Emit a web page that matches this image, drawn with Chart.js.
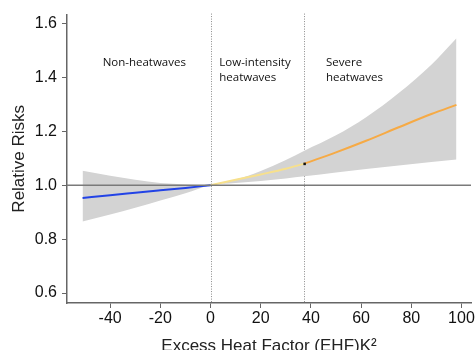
<!DOCTYPE html>
<html>
<head>
<meta charset="utf-8">
<script src="https://cdn.jsdelivr.net/npm/chart.js@4/dist/chart.umd.min.js"></script>
<style>
  html, body { margin: 0; padding: 0; background: #fff; }
  #wrap { width: 476px; height: 350px; position: relative; }
</style>
</head>
<body>
<div id="wrap"><canvas id="grafik"></canvas></div>
<script>
// ----- podaci (procitano sa slike)
const xNon = [-51, -40, -30, -20, -10, 0];
const rrNon = [0.953, 0.963, 0.972, 0.981, 0.990, 1.0];

const xLow = [0, 10, 20, 30, 37.4];
const rrLow = [1.0, 1.020, 1.040, 1.061, 1.080];

const xSev = [37.4, 50, 62, 75, 88, 98];
const rrSev = [1.080, 1.122, 1.165, 1.215, 1.264, 1.298];

// interval poverenja (siva traka)
const xBand  = [-51, -40, -30, -20, -10, 0, 10, 20, 30, 37.4, 50, 62, 75, 88, 98];
const hiBand = [1.054, 1.035, 1.020, 1.008, 1.003, 1.0, 1.021, 1.053, 1.094, 1.128, 1.185, 1.252, 1.342, 1.447, 1.545];
const loBand = [0.865, 0.891, 0.916, 0.943, 0.970, 1.0, 1.008, 1.016, 1.025, 1.033, 1.047, 1.060, 1.073, 1.086, 1.095];

const xTicks = [-40, -20, 0, 20, 40, 60, 80, 100];
const yTicks = [0.6, 0.8, 1.0, 1.2, 1.4, 1.6];

const granice = [0, 37.4];   // isprekidane vertikalne linije
const refLinija = 1.0;

const oznake = [
  { x: -43, lines: ["Non-heatwaves"] },
  { x: 3.5, lines: ["Low-intensity", "heatwaves"] },
  { x: 46, lines: ["Severe", "heatwaves"] }
];

function tacke(xs, ys) {
  return xs.map((x, i) => ({ x: x, y: ys[i] }));
}

// ----- plugin za referentne linije i tekst
const dodaci = {
  id: "dodaci",
  beforeDatasetsDraw(chart) {
    let ctx = chart.ctx;
    let xs = chart.scales.x;
    let a = chart.chartArea;
    ctx.save();
    // vertikalne tackaste linije
    ctx.strokeStyle = "#8a8a8a";
    ctx.lineWidth = 1;
    ctx.setLineDash([1, 1.5]);
    granice.forEach(g => {
      let px = Math.round(xs.getPixelForValue(g)) + 0.5;
      ctx.beginPath();
      ctx.moveTo(px, a.top - 1);
      ctx.lineTo(px, a.bottom);
      ctx.stroke();
    });
    ctx.restore();
  },
  afterDatasetsDraw(chart) {
    let ctx = chart.ctx;
    let xs = chart.scales.x, ys = chart.scales.y;
    let a = chart.chartArea;
    ctx.save();
    // horizontalna linija na 1.0
    let py = ys.getPixelForValue(refLinija);
    ctx.strokeStyle = "#7a7a7a";
    ctx.lineWidth = 1.5;
    ctx.beginPath();
    ctx.moveTo(a.left, py);
    ctx.lineTo(a.right, py);
    ctx.stroke();
    // crna tackica na spoju
    let n = xLow.length - 1;
    ctx.fillStyle = "#111";
    ctx.fillRect(xs.getPixelForValue(xLow[n]) - 1, ys.getPixelForValue(rrLow[n]) - 1, 2.5, 2.5);
    // tekst
    ctx.fillStyle = "#111";
    ctx.font = "11.5px 'Open Sans'";
    ctx.textBaseline = "alphabetic";
    ctx.textAlign = "left";
    oznake.forEach(o => {
      o.lines.forEach((l, i) => {
        ctx.fillText(l, xs.getPixelForValue(o.x), 66 + i * 15);
      });
    });
    ctx.restore();
  }
};

let linija = (data, boja) => ({
  data: data,
  borderColor: boja,
  borderWidth: 2,
  pointRadius: 0,
  fill: false,
  cubicInterpolationMode: "monotone",
  order: 0
});

const grafik = new Chart(document.getElementById("grafik"), {
  type: "line",
  data: {
    datasets: [
      linija(tacke(xNon, rrNon), "#2243e6"),
      linija(tacke(xLow, rrLow), "#f7e08c"),
      linija(tacke(xSev, rrSev), "#f6aa45"),
      {
        data: tacke(xBand, hiBand),
        borderWidth: 0,
        pointRadius: 0,
        backgroundColor: "#d3d3d3",
        fill: "+1",
        cubicInterpolationMode: "monotone",
        order: 2
      },
      {
        data: tacke(xBand, loBand),
        borderWidth: 0,
        pointRadius: 0,
        fill: false,
        cubicInterpolationMode: "monotone",
        order: 2
      }
    ]
  },
  options: {
    responsive: true,
    maintainAspectRatio: false,
    animation: false,
    layout: { padding: { left: 0, right: 5, top: 13, bottom: 0 } },
    plugins: {
      legend: { display: false },
      tooltip: { enabled: false }
    },
    scales: {
      x: {
        type: "linear",
        min: -57.2,
        max: 103.8,
        afterBuildTicks: s => { s.ticks = xTicks.map(v => ({ value: v })); },
        afterFit: s => { s.height = 47; },
        grid: { drawOnChartArea: false, drawTicks: true, tickLength: 5, color: "#666" },
        border: { display: true, color: "#666", width: 1.5 },
        ticks: {
          color: "#111",
          font: { family: "'Liberation Sans', Arial", size: 16 },
          padding: 1,
          maxRotation: 0,
          autoSkip: false
        },
        title: {
          display: true,
          text: "Excess Heat Factor (EHF)K\u00B2",
          color: "#222",
          font: { family: "'Liberation Sans', Arial", size: 17 },
          padding: { top: 0, bottom: -7 }
        }
      },
      y: {
        min: 0.563,
        max: 1.633,
        afterBuildTicks: s => { s.ticks = yTicks.map(v => ({ value: v })); },
        afterFit: s => { s.width = 67; },
        grid: { drawOnChartArea: false, drawTicks: true, tickLength: 5, color: "#666" },
        border: { display: true, color: "#666", width: 1.5 },
        ticks: {
          color: "#111",
          font: { family: "'Liberation Sans', Arial", size: 16 },
          padding: 5,
          callback: v => v.toFixed(1)
        },
        title: {
          display: true,
          text: "Relative Risks",
          color: "#222",
          font: { family: "'Liberation Sans', Arial", size: 17 },
          padding: { top: 9, bottom: 0 }
        }
      }
    }
  },
  plugins: [dodaci]
});
</script>
</body>
</html>
